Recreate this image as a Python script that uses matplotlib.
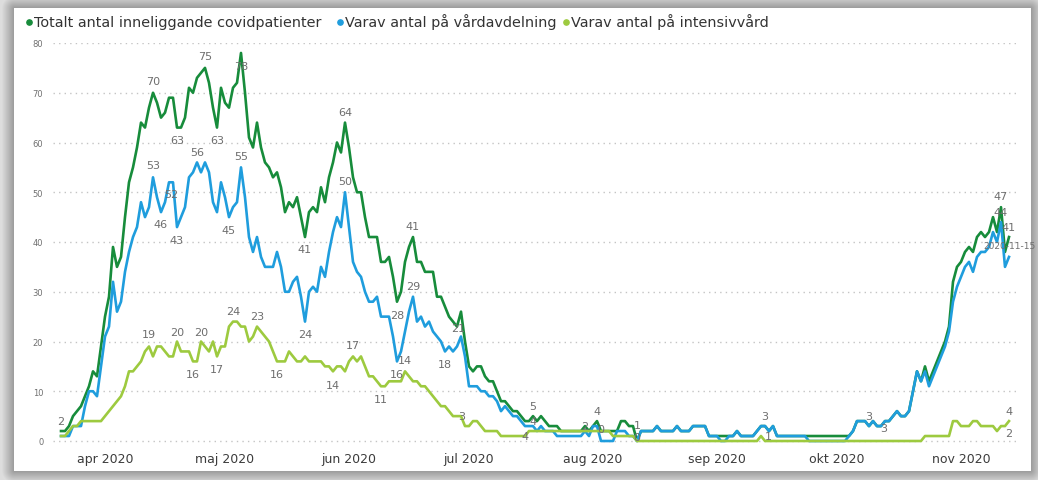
import numpy as np
import pandas as pd
import matplotlib
matplotlib.use("Agg")
import matplotlib.pyplot as plt
from matplotlib.lines import Line2D

# daily values, first day 2020-03-21
START_DATE = "2020-03-21"

total = [
    2, 2, 3, 5, 6, 7, 9, 11, 14, 13,
    19, 25, 29, 39, 35, 37, 45, 52, 55, 59,
    64, 63, 67, 70, 68, 65, 66, 69, 69, 63,
    63, 65, 71, 70, 73, 74, 75, 72, 67, 63,
    71, 68, 67, 71, 72, 78, 70, 61, 59, 64,
    59, 56, 55, 53, 54, 51, 46, 48, 47, 49,
    45, 41, 46, 47, 46, 51, 48, 53, 56, 60,
    58, 64, 59, 53, 50, 50, 45, 41, 41, 41,
    36, 36, 37, 33, 28, 30, 36, 39, 41, 36,
    36, 34, 34, 34, 29, 29, 27, 25, 24, 23,
    26, 20, 15, 14, 15, 15, 13, 12, 12, 10,
    8, 8, 7, 6, 6, 5, 4, 4, 5, 4,
    5, 4, 3, 3, 3, 2, 2, 2, 2, 2,
    2, 3, 2, 3, 4, 2, 2, 2, 2, 2,
    4, 4, 3, 3, 0, 2, 2, 2, 2, 3,
    2, 2, 2, 2, 3, 2, 2, 2, 3, 3,
    3, 3, 1, 1, 1, 1, 1, 1, 1, 2,
    1, 1, 1, 1, 2, 3, 3, 2, 3, 1,
    1, 1, 1, 1, 1, 1, 1, 1, 1, 1,
    1, 1, 1, 1, 1, 1, 1, 1, 2, 4,
    4, 4, 3, 4, 3, 3, 4, 4, 5, 6,
    5, 5, 6, 10, 14, 12, 15, 12, 14, 16,
    18, 20, 23, 32, 35, 36, 38, 39, 38, 41,
    42, 41, 42, 45, 42, 47, 38, 41,
]

ward = [
    1, 1, 1, 3, 3, 3, 7, 10, 10, 9,
    15, 21, 23, 32, 26, 28, 34, 38, 41, 43,
    48, 45, 47, 53, 49, 46, 48, 52, 52, 43,
    45, 47, 53, 54, 56, 54, 56, 54, 48, 46,
    52, 49, 45, 47, 48, 55, 49, 41, 38, 41,
    37, 35, 35, 35, 38, 35, 30, 30, 32, 33,
    29, 24, 30, 31, 30, 35, 33, 38, 42, 45,
    43, 50, 43, 36, 34, 33, 30, 28, 28, 29,
    25, 25, 25, 21, 16, 18, 22, 26, 29, 24,
    25, 23, 24, 22, 21, 20, 18, 19, 18, 19,
    21, 17, 11, 11, 11, 10, 10, 9, 9, 8,
    6, 7, 6, 5, 5, 4, 3, 3, 3, 2,
    3, 2, 2, 2, 1, 1, 1, 1, 1, 1,
    1, 2, 1, 3, 3, 0, 0, 0, 0, 2,
    2, 2, 1, 1, 0, 2, 2, 2, 2, 3,
    2, 2, 2, 2, 3, 2, 2, 2, 3, 3,
    3, 3, 1, 1, 1, 0, 0, 1, 1, 2,
    1, 1, 1, 1, 2, 3, 3, 2, 3, 1,
    1, 1, 1, 1, 1, 1, 1, 0, 0, 0,
    0, 0, 0, 0, 0, 0, 0, 1, 2, 4,
    4, 4, 3, 4, 3, 3, 4, 4, 5, 6,
    5, 5, 6, 10, 14, 12, 14, 11, 13, 15,
    17, 19, 22, 28, 31, 33, 35, 36, 34, 37,
    38, 38, 39, 42, 40, 44, 35, 37,
]

icu = [
    1, 1, 2, 3, 3, 4, 4, 4, 4, 4,
    4, 5, 6, 7, 8, 9, 11, 14, 14, 15,
    16, 18, 19, 17, 19, 19, 18, 17, 17, 20,
    18, 18, 18, 16, 16, 20, 19, 18, 20, 17,
    19, 19, 23, 24, 24, 23, 23, 20, 21, 23,
    22, 21, 20, 18, 16, 16, 16, 18, 17, 16,
    16, 17, 16, 16, 16, 16, 15, 15, 14, 15,
    15, 14, 16, 17, 16, 17, 15, 13, 13, 12,
    11, 11, 12, 12, 12, 12, 14, 13, 12, 12,
    11, 11, 10, 9, 8, 7, 7, 6, 5, 5,
    5, 3, 3, 4, 4, 3, 2, 2, 2, 2,
    1, 1, 1, 1, 1, 1, 1, 2, 2, 2,
    2, 2, 2, 2, 2, 2, 2, 2, 2, 2,
    2, 2, 2, 2, 2, 2, 2, 2, 1, 1,
    1, 1, 1, 1, 0, 0, 0, 0, 0, 0,
    0, 0, 0, 0, 0, 0, 0, 0, 0, 0,
    0, 0, 0, 0, 0, 0, 0, 0, 0, 0,
    0, 0, 0, 0, 0, 1, 0, 0, 0, 0,
    0, 0, 0, 0, 0, 0, 0, 0, 0, 0,
    0, 0, 0, 0, 0, 0, 0, 0, 0, 0,
    0, 0, 0, 0, 0, 0, 0, 0, 0, 0,
    0, 0, 0, 0, 0, 0, 1, 1, 1, 1,
    1, 1, 1, 4, 4, 3, 3, 3, 4, 4,
    3, 3, 3, 3, 2, 3, 3, 4,
]

series_names = [
    "Totalt antal inneliggande covidpatienter",
    "Varav antal på vårdavdelning",
    "Varav antal på intensivvård",
]
series_colors = ["#178c3b", "#1f9ddd", "#9dca3f"]

month_ticks = ["2020-04-01", "2020-05-01", "2020-06-01", "2020-07-01",
               "2020-08-01", "2020-09-01", "2020-10-01", "2020-11-01"]
month_labels = ["apr 2020", "maj 2020", "jun 2020", "jul 2020",
                "aug 2020", "sep 2020", "okt 2020", "nov 2020"]

# data labels: series, day index, text, x/y offset in pixels
point_labels = [
    ("total", 0, "2", 0, 10),
    ("total", 23, "70", 0, 12),
    ("total", 29, "63", 0, -12),
    ("total", 36, "75", 0, 12),
    ("total", 39, "63", 0, -12),
    ("total", 45, "78", 0, -13),
    ("total", 61, "41", 0, -12),
    ("total", 71, "64", 0, 11),
    ("total", 84, "28", 0, -13),
    ("total", 88, "41", 0, 11),
    ("total", 116, "4", 0, -15),
    ("total", 118, "5", 0, 10),
    ("ward", 118, "4", 0, 5),
    ("ward", 131, "2", 0, 5),
    ("total", 134, "4", 0, 10),
    ("ward", 135, "0", 0, 12),
    ("total", 144, "1", 0, 16),
    ("total", 144, "0", 0, 4),
    ("ward", 176, "3", 0, 10),
    ("icu", 175, "1", 7, 0),
    ("ward", 202, "3", 0, 10),
    ("ward", 205, "3", 3, -2),
    ("total", 235, "47", 0, 11),
    ("ward", 235, "44", 0, 10),
    ("total", 237, "41", 0, 10),
    ("icu", 237, "4", 0, 10),
    ("icu", 237, "2", 0, -12),
    ("ward", 23, "53", 0, 12),
    ("ward", 25, "46", 0, -12),
    ("ward", 27, "52", 2, -12),
    ("ward", 29, "43", 0, -13),
    ("ward", 34, "56", 0, 10),
    ("ward", 42, "45", 0, -13),
    ("ward", 45, "55", 0, 11),
    ("ward", 61, "24", 0, -12),
    ("ward", 71, "50", 0, 11),
    ("ward", 84, "16", 0, -13),
    ("ward", 88, "29", 0, 11),
    ("ward", 96, "18", 0, -13),
    ("ward", 100, "21", -3, 9),
    ("icu", 22, "19", 0, 12),
    ("icu", 29, "20", 0, 10),
    ("icu", 33, "16", 0, -13),
    ("icu", 35, "20", 0, 10),
    ("icu", 39, "17", 0, -13),
    ("icu", 43, "24", 0, 11),
    ("icu", 49, "23", 0, 11),
    ("icu", 54, "16", 0, -13),
    ("icu", 68, "14", 0, -14),
    ("icu", 73, "17", 0, 11),
    ("icu", 80, "11", 0, -13),
    ("icu", 86, "14", 0, 11),
    ("icu", 101, "3", -3, 10),
]

W, H = 1038, 481


def frame_image():
    # grey shadow round the white report panel
    yy, xx = np.mgrid[0:H, 0:W]
    x0, x1, y0, y1 = 14, 1030, 9, 471
    dx = np.maximum(np.maximum(x0 - xx, xx - x1), 0)
    dy = np.maximum(np.maximum(y0 - yy, yy - y1), 0)
    d = np.hypot(dx, dy)
    g = np.where(d > 0, np.clip(0.60 + 0.021 * d, 0, 0.87), 1.0)
    return np.dstack([g, g, g])


def main():
    dates = pd.date_range(START_DATE, periods=len(total), freq="D")
    data = {"total": total, "ward": ward, "icu": icu}

    fig = plt.figure(figsize=(W / 100, H / 100), dpi=100)
    fig.figimage(frame_image(), xo=0, yo=0, origin="upper", zorder=-10)

    top_px, bottom_px = 44, 442 + 4.975
    ax = fig.add_axes([53 / W, (H - bottom_px) / H, 965 / W, (bottom_px - top_px) / H])
    ax.set_zorder(5)
    ax.set_facecolor("none")

    for key, color, z in zip(["total", "ward", "icu"], series_colors, [3, 4, 5]):
        ax.plot(dates, data[key], color=color, lw=1.9, zorder=z,
                solid_joinstyle="round", clip_on=False)

    ax.set_ylim(-1, 80)
    ax.set_xlim(dates[0] - pd.Timedelta(days=2), dates[-1] + pd.Timedelta(days=2.25))
    ax.set_yticks(range(0, 81, 10))
    ax.set_xticks(pd.to_datetime(month_ticks))
    ax.set_xticklabels(month_labels)
    ax.tick_params(axis="y", length=0, pad=7, labelsize=6, labelcolor="#707070")
    ax.tick_params(axis="x", length=0, pad=4, labelsize=9, labelcolor="#3c3c3c")
    for s in ax.spines.values():
        s.set_visible(False)
    ax.yaxis.grid(True, linestyle=(0, (1, 3)), color="#c4c4c4", linewidth=1)
    ax.set_axisbelow(True)

    for key, idx, text, ox, oy in point_labels:
        ax.annotate(text, xy=(dates[idx], data[key][idx]), xytext=(ox, oy),
                    textcoords="offset pixels", ha="center", va="center",
                    fontsize=8, color="#6e6e6e", zorder=6, annotation_clip=False)

    ax.annotate("2020-11-15", xy=(dates[-1], ward[-1]), xytext=(-26, 11),
                textcoords="offset pixels", ha="left", va="center",
                fontsize=6.5, color="#6e6e6e", zorder=6, annotation_clip=False)

    # legend row on top
    legend_y = 1 - 22.5 / H
    dot_x = [29, 340, 566]
    for name, color, x in zip(series_names, series_colors, dot_x):
        fig.add_artist(Line2D([x / W], [legend_y], marker="o", ms=3.8, color=color,
                              transform=fig.transFigure, zorder=6))
        fig.text((x + 5) / W, legend_y, name, ha="left", va="center",
                 fontsize=10.4, color="#333333", zorder=6)

    fig.savefig("out.png", dpi=100)
    plt.close(fig)


if __name__ == "__main__":
    main()
